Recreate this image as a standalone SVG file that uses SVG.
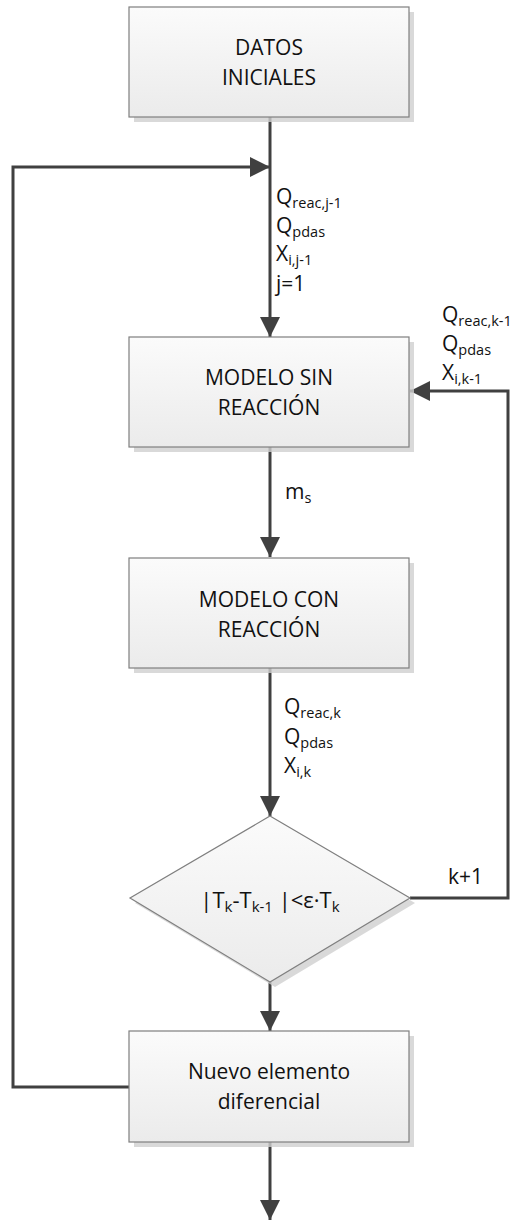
<svg xmlns="http://www.w3.org/2000/svg" width="512" height="1221" viewBox="0 0 512 1221">
<defs>
<linearGradient id="g" x1="0" y1="0" x2="0" y2="1">
<stop offset="0" stop-color="#fbfbfb"/>
<stop offset="1" stop-color="#ebebeb"/>
</linearGradient>
<marker id="ah" viewBox="0 0 20 20" refX="20" refY="10" markerWidth="20" markerHeight="20" markerUnits="userSpaceOnUse" orient="auto">
<path d="M0,0 L20,10 L0,20 Z" fill="#404040"/>
</marker>
</defs>
<style>
.box{fill:url(#g);stroke:#7f7f7f;stroke-width:1.2}
.sh{fill:#cfcfcf;opacity:0.8}
.t{font-family:"Open Sans","Noto Sans",sans-serif;font-size:21px;fill:#111;text-anchor:middle}
.l{font-family:"Open Sans","Noto Sans",sans-serif;font-size:21px;fill:#111}
.s{font-size:14.5px}
.d{font-size:22px}
.ds{font-size:15px}
.c{fill:none;stroke:#404040;stroke-width:3}
</style>
<g id="connectors">
<path class="c" d="M270,117 V337" marker-end="url(#ah)"/>
<path class="c" d="M129,1087 H13 V167 H270" marker-end="url(#ah)"/>
<path class="c" d="M270,447 V557" marker-end="url(#ah)"/>
<path class="c" d="M270,668 V816" marker-end="url(#ah)"/>
<path class="c" d="M410,898 H508 V391 H410" marker-end="url(#ah)"/>
<path class="c" d="M270,982 V1031" marker-end="url(#ah)"/>
<path class="c" d="M270,1142 V1220" marker-end="url(#ah)"/>
<text class="l" x="276" y="204">Q<tspan class="s" dy="4">reac,j-1</tspan></text>
<text class="l" x="276" y="233">Q<tspan class="s" dy="4">pdas</tspan></text>
<text class="l" x="276" y="261">X<tspan class="s" dy="4">i,j-1</tspan></text>
<text class="l" x="276" y="291">j=1</text>
<text class="l" x="442" y="322">Q<tspan class="s" dy="4">reac,k-1</tspan></text>
<text class="l" x="442" y="351">Q<tspan class="s" dy="4">pdas</tspan></text>
<text class="l" x="442" y="380">X<tspan class="s" dy="4">i,k-1</tspan></text>
<text class="l" x="285" y="499">m<tspan class="s" dy="4">s</tspan></text>
<text class="l" x="284" y="714">Q<tspan class="s" dy="4">reac,k</tspan></text>
<text class="l" x="284" y="744">Q<tspan class="s" dy="4">pdas</tspan></text>
<text class="l" x="284" y="773">X<tspan class="s" dy="4">i,k</tspan></text>
<text class="l" x="448" y="884">k+1</text>
</g>
<g id="datos">
<rect class="sh" x="134" y="12" width="280" height="110"/>
<rect class="box" x="129" y="7" width="280" height="110"/>
<text class="t" x="269" y="55">DATOS</text>
<text class="t" x="269" y="85">INICIALES</text>
</g>
<g id="sin">
<rect class="sh" x="134" y="342" width="280" height="110"/>
<rect class="box" x="129" y="337" width="280" height="110"/>
<text class="t" x="269" y="385">MODELO SIN</text>
<text class="t" x="269" y="415">REACCIÓN</text>
</g>
<g id="con">
<rect class="sh" x="134" y="563" width="280" height="110"/>
<rect class="box" x="129" y="558" width="280" height="110"/>
<text class="t" x="269" y="607">MODELO CON</text>
<text class="t" x="269" y="637">REACCIÓN</text>
</g>
<g id="decision">
<polygon class="sh" points="275,821 415,903 275,987 135,903"/>
<polygon class="box" points="270,816 410,898 270,982 130,898"/>
<text class="l d" x="270" y="908" text-anchor="middle">|T<tspan class="ds" dy="4">k</tspan><tspan dy="-4">-T</tspan><tspan class="ds" dy="4">k-1</tspan><tspan dy="-4"> |&lt;ε·T</tspan><tspan class="ds" dy="4">k</tspan></text>
</g>
<g id="nuevo">
<rect class="sh" x="134" y="1036" width="280" height="111"/>
<rect class="box" x="129" y="1031" width="280" height="111"/>
<text class="t" x="269" y="1079">Nuevo elemento</text>
<text class="t" x="269" y="1109">diferencial</text>
</g>
</svg>
